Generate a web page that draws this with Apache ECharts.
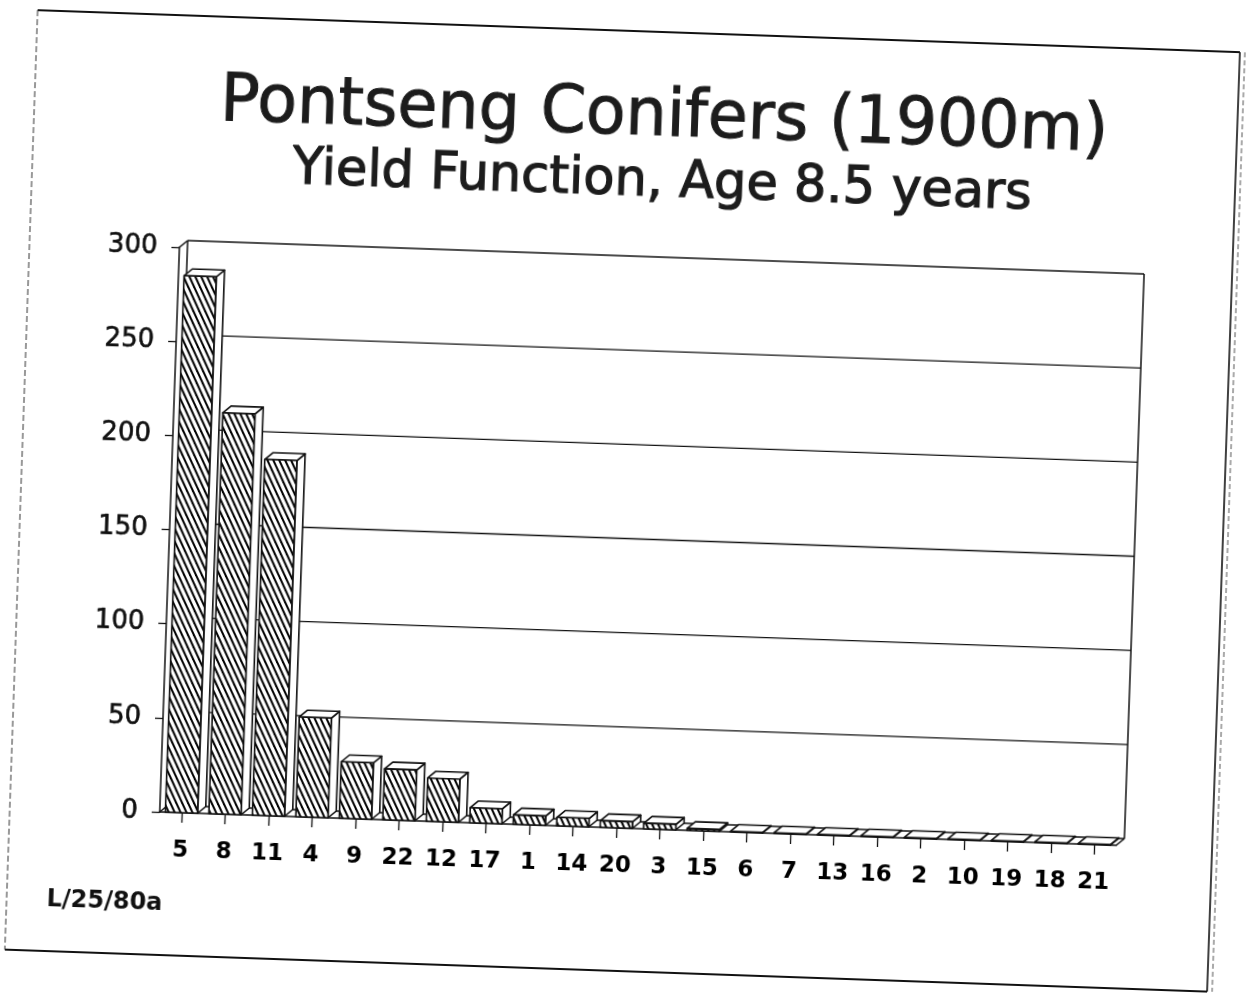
<!DOCTYPE html>
<html><head><meta charset="utf-8">
<script src="https://cdn.jsdelivr.net/npm/echarts@6/dist/echarts.min.js"></script>
<style>
html,body{margin:0;padding:0;background:#fff;overflow:hidden;width:1251px;height:994px}
#chart{width:1251px;height:994px;transform:rotate(2deg);transform-origin:625.5px 497px;background:#fff}
</style></head><body><div id="chart"></div>
<script>
const titleText = 'Pontseng Conifers (1900m)';
const subtitleText = 'Yield Function, Age 8.5 years';
const footnoteText = 'L/25/80a';
const categories = ['5','8','11','4','9','22','12','17','1','14','20','3','15','6','7','13','16','2','10','19','18','21'];
const values = [285, 213, 189, 53, 30, 27, 23, 8, 5, 4.5, 3.5, 3, 1, 0.3, 0.3, 0.3, 0.3, 0.3, 0.3, 0.3, 0.3, 0.3];
const yMin = 0, yMax = 300, yInterval = 50;
const gridValues = [0, 50, 100, 150, 200, 250, 300];

const DX = 8, DY = -7;
const LINE = '#111';
const FONT = '"DejaVu Sans", sans-serif';

function makeHatch(){
  const c = document.createElement('canvas'); c.width = 6; c.height = 12;
  const g = c.getContext('2d');
  g.fillStyle = '#fff'; g.fillRect(0,0,6,12);
  g.strokeStyle = '#000'; g.lineWidth = 2;
  [[-3,-6,9,18],[-9,-6,3,18],[3,-6,15,18]].forEach(s=>{
    g.beginPath(); g.moveTo(s[0],s[1]); g.lineTo(s[2],s[3]); g.stroke();
  });
  return c;
}
const hatch = makeHatch();
const n = categories.length;

function renderGrid(params, api){
  const v = api.value(1);
  const band = api.size([1,0])[0];
  const pL = api.coord([0, v]), pR = api.coord([n-1, v]);
  const xl = pL[0]-band/2+DX, xr = pR[0]+band/2+DX, y = pL[1]+DY;
  return {type:'line', shape:{x1:xl,y1:y,x2:xr,y2:y}, style:{stroke:LINE, lineWidth:1.3}};
}
function renderWalls(params, api){
  const band = api.size([1,0])[0];
  const tl = api.coord([0,yMax]), bl = api.coord([0,yMin]);
  const tr = api.coord([n-1,yMax]);
  const L = tl[0]-band/2, R = tr[0]+band/2, T = tl[1], B = bl[1];
  const st = {stroke:LINE, lineWidth:1.5};
  const seg = (a,b,c,d)=>({type:'line', shape:{x1:a,y1:b,x2:c,y2:d}, style:st});
  return {type:'group', children:[
    seg(L+DX,T+DY,L+DX,B+DY),
    seg(L,T,L+DX,T+DY),
    seg(L,B,L+DX,B+DY),
    seg(R+DX,T+DY,R+DX,B+DY),
    seg(R,B,R+DX,B+DY)
  ]};
}
function renderBar(params, api){
  const i = api.value(0), v = api.value(1);
  const band = api.size([1,0])[0];
  const w = band*0.74;
  const t = api.coord([i,v]), b = api.coord([i,0]);
  const x0 = t[0]-w/2, x1 = t[0]+w/2, yt = t[1], yb = b[1];
  const st = {stroke:LINE, lineWidth:1.6, lineJoin:'round'};
  return {type:'group', children:[
    {type:'polygon', shape:{points:[[x1,yt],[x1+DX,yt+DY],[x1+DX,yb+DY],[x1,yb]]}, style:Object.assign({fill:'#fff'},st)},
    {type:'polygon', shape:{points:[[x0,yt],[x1,yt],[x1+DX,yt+DY],[x0+DX,yt+DY]]}, style:Object.assign({fill:'#fff'},st)},
    {type:'rect', shape:{x:x0,y:yt,width:w,height:Math.max(yb-yt,0.6)}, style:Object.assign({fill:{image:hatch, repeat:'repeat'}},st)}
  ]};
}

const chart = echarts.init(document.getElementById('chart'), null, {renderer:'canvas'});
const option = {
  animation:false,
  backgroundColor:'#fff',
  grid:{left:171, right:123, top:263, bottom:166},
  xAxis:{type:'category', data:categories, boundaryGap:true,
    axisLine:{show:true, lineStyle:{color:LINE, width:1.5}},
    axisTick:{show:true, alignWithLabel:true, length:10, lineStyle:{color:LINE, width:1.3}},
    axisLabel:{margin:27, color:'#000', fontFamily:FONT, fontWeight:'bold', fontSize:23, interval:0},
    splitLine:{show:false}},
  yAxis:{type:'value', min:yMin, max:yMax, interval:yInterval,
    axisLine:{show:true, lineStyle:{color:LINE, width:1.5}},
    axisTick:{show:true, length:8, lineStyle:{color:LINE, width:1.3}},
    axisLabel:{margin:22, color:'#111', fontFamily:FONT, fontSize:26, textBorderColor:'#111', textBorderWidth:0.6},
    splitLine:{show:false}},
  series:[
    {type:'custom', z:1, silent:true, data:gridValues.map(v=>[0,v]), renderItem:renderGrid},
    {type:'custom', z:1, silent:true, data:[[0,yMax]], renderItem:renderWalls},
    {type:'custom', z:3, data:values.map((v,i)=>[i,v]), renderItem:renderBar}
  ],
  graphic:[
    {type:'text', x:651, y:117, style:{text:titleText, font:'65px '+FONT, fill:'#1c1c1c', stroke:'#1c1c1c', lineWidth:1, align:'center', verticalAlign:'middle', textAlign:'center', textVerticalAlign:'middle'}},
    {type:'text', x:651, y:182, style:{text:subtitleText, font:'51px '+FONT, fill:'#1c1c1c', stroke:'#1c1c1c', lineWidth:1.2, align:'center', verticalAlign:'middle', textAlign:'center', textVerticalAlign:'middle'}},
    {type:'text', x:61, y:920, style:{text:footnoteText, font:'bold 24px '+FONT, fill:'#111', align:'left', verticalAlign:'middle', textAlign:'left', textVerticalAlign:'middle'}},
    {type:'line', shape:{x1:21,y1:31,x2:1224,y2:31}, style:{stroke:'#111', lineWidth:2}},
    {type:'line', shape:{x1:21,y1:971,x2:1224,y2:971}, style:{stroke:'#111', lineWidth:2.2}},
    {type:'line', shape:{x1:21,y1:31,x2:21,y2:971}, style:{stroke:'#333', lineWidth:1, lineDash:[6,3]}},
    {type:'line', shape:{x1:1224,y1:31,x2:1224,y2:971}, style:{stroke:'#111', lineWidth:1.6}},
    {type:'line', shape:{x1:1229,y1:31,x2:1229,y2:971}, style:{stroke:'#555', lineWidth:1, lineDash:[5,3]}}
  ]
};
chart.setOption(option);
</script></body></html>
